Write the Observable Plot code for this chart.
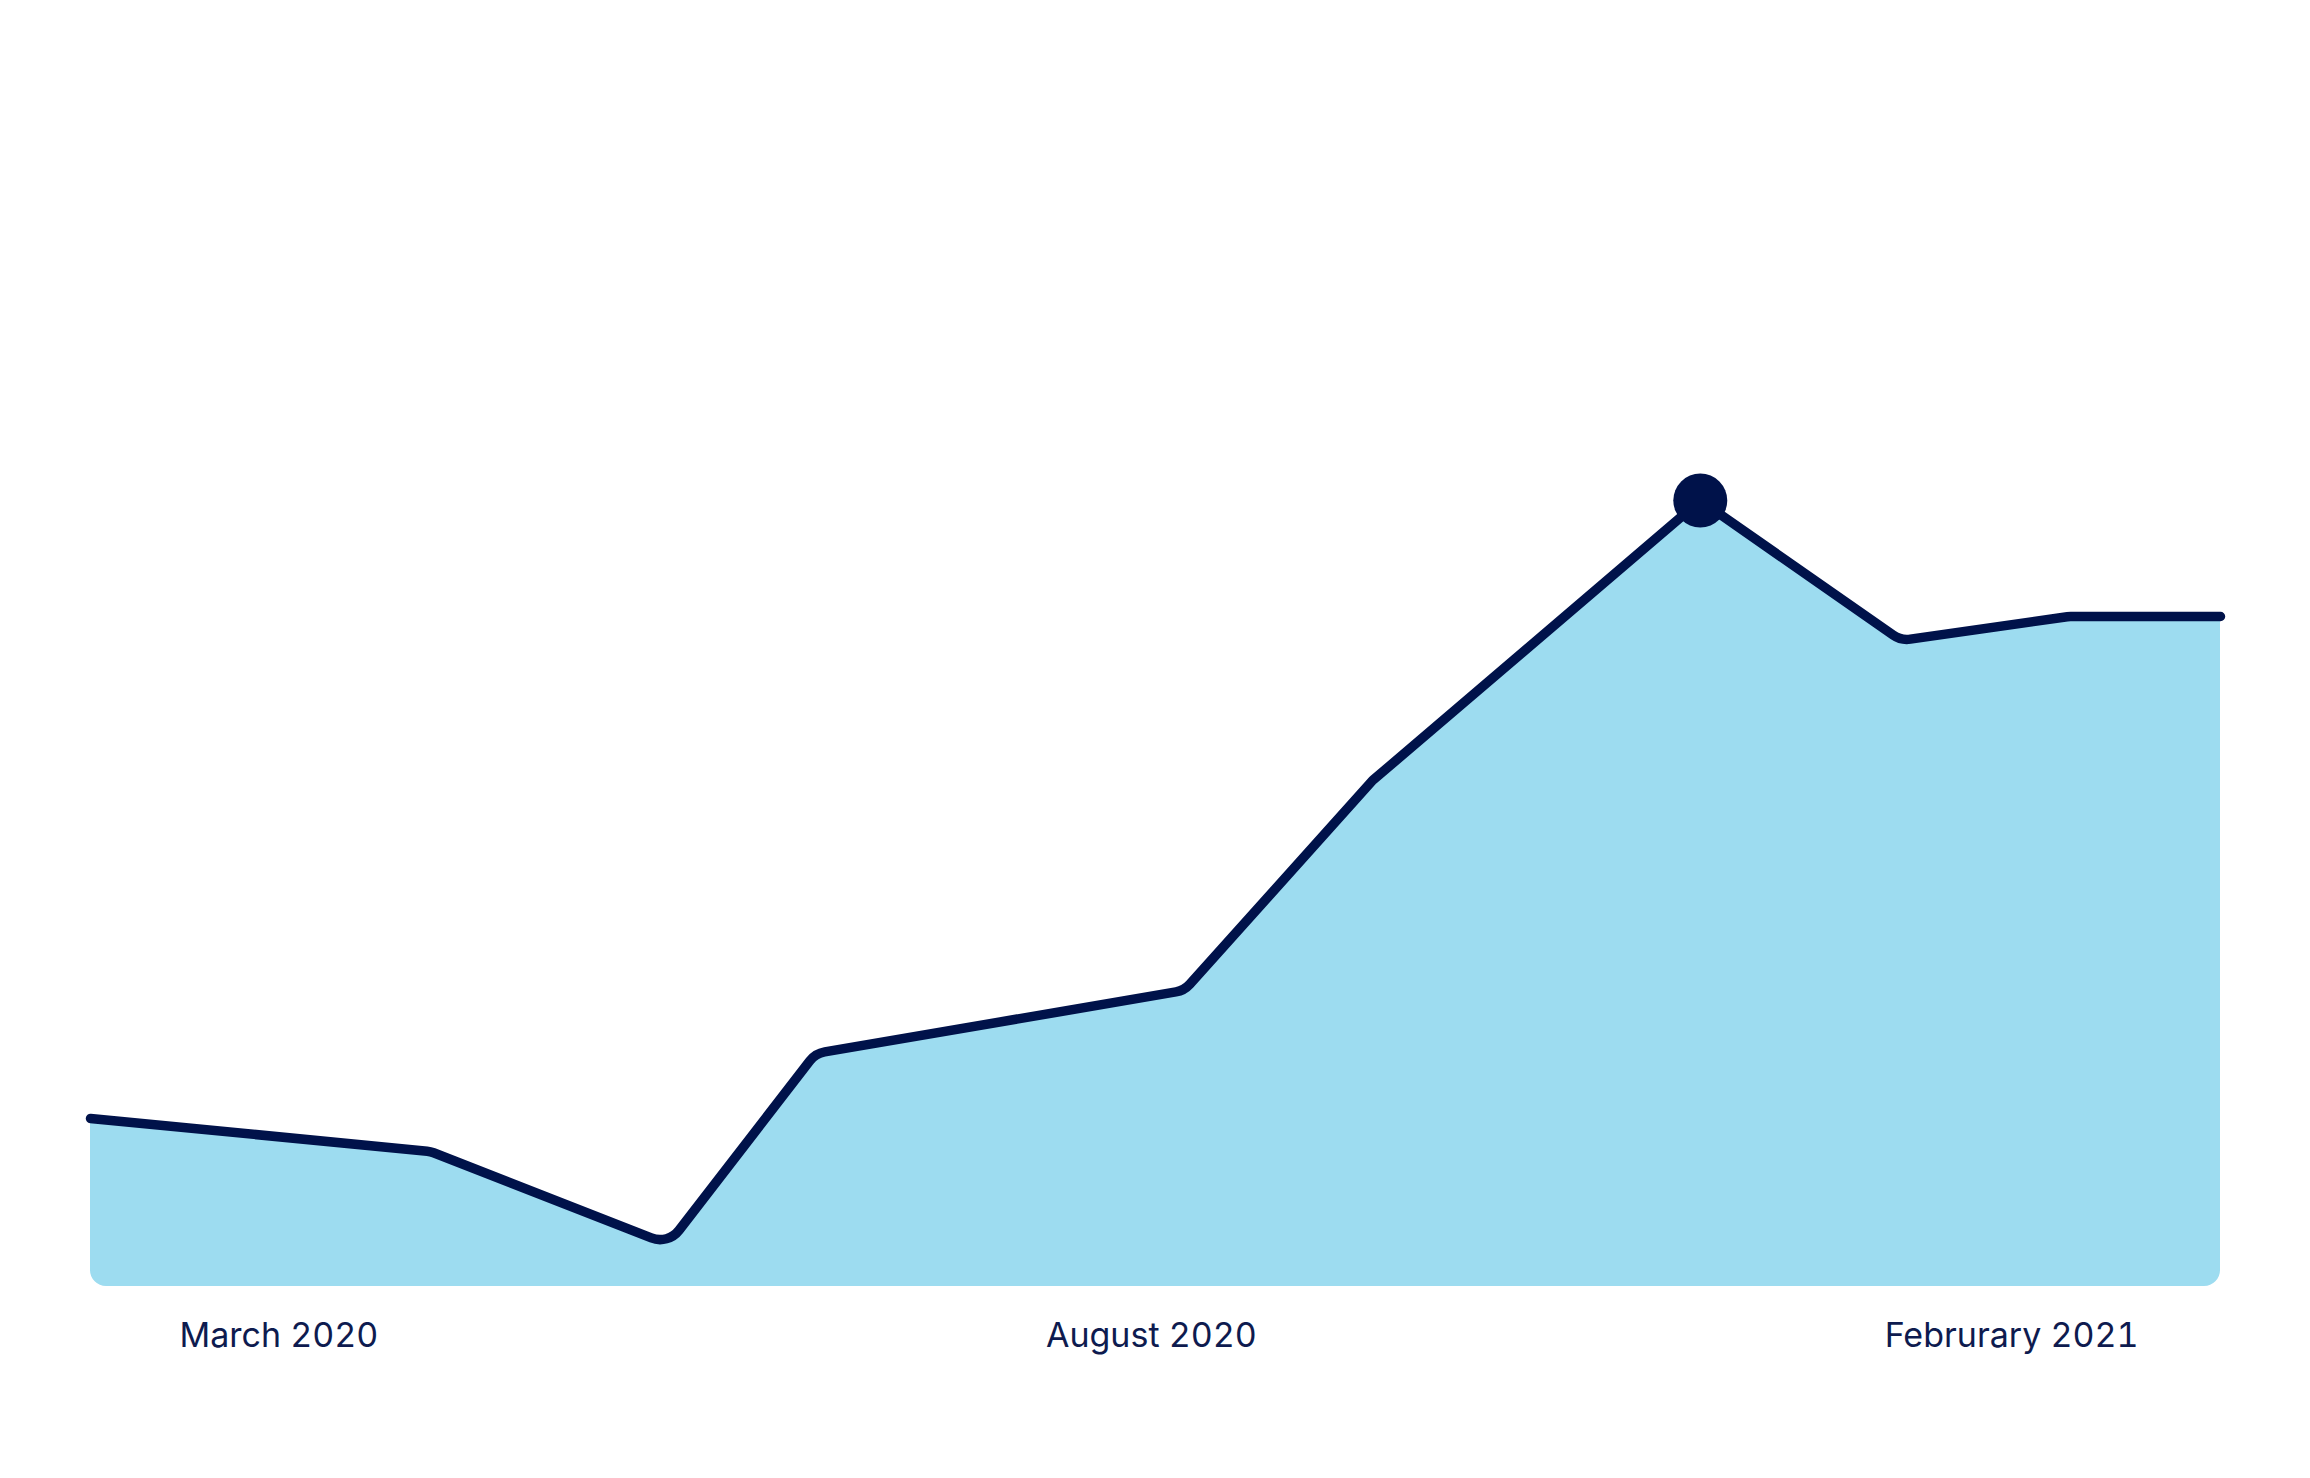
<!DOCTYPE html>
<html>
<head>
<meta charset="utf-8">
<script src="https://cdn.jsdelivr.net/npm/d3@7"></script>
<script src="https://cdn.jsdelivr.net/npm/@observablehq/plot@0.6"></script>
<style>
  html, body { margin: 0; padding: 0; background: #ffffff; }
  #chart svg { display: block; }
</style>
</head>
<body>
<div id="chart"></div>
<script>
// Data: week index across the period (Mar 2020 – Feb 2021) and index value
const weeks  = [0, 8.3, 14.1, 17.7, 26.7, 31.3, 39.3, 44.2, 48.3, 52];
const values = [16.8, 13.5, 4.2, 23.3, 29.6, 50.6, 78.6, 64.6, 67.0, 67.0];

// Axis labels
const tickWeeks  = [4.6, 25.9, 46.9];
const tickLabels = ["March 2020", "August 2020", "Februrary 2021"];

const data = weeks.map((w, i) => ({week: w, value: values[i]}));
const peak = data.reduce((a, b) => (b.value > a.value ? b : a));
const labelOf = new Map(tickWeeks.map((t, i) => [t, tickLabels[i]]));

const navy = "#00124a";
const sky = "#9ddcf0";
const textColor = "#0e1b4f";

// Polyline with rounded (filleted) corners; in area mode the bottom corners get their own radius
function roundedCurve(r, rBottom) {
  return function (context) {
    let pts = [], inArea = false, lines = 0, nTop = 0;
    function drawLine() {
      const n = pts.length;
      if (!n) return;
      context.moveTo(pts[0][0], pts[0][1]);
      for (let i = 1; i < n - 1; i++) context.arcTo(pts[i][0], pts[i][1], pts[i + 1][0], pts[i + 1][1], r);
      if (n > 1) context.lineTo(pts[n - 1][0], pts[n - 1][1]);
    }
    function drawArea() {
      const N = pts.length;
      if (!N) return;
      context.moveTo(pts[0][0], pts[0][1]);
      for (let k = 1; k < N; k++) {
        const nx = pts[(k + 1) % N];
        let rad = 0;
        if (k === nTop - 1) rad = 0;
        else if (k < nTop - 1) rad = r;
        else if (k === nTop || k === N - 1) rad = rBottom;
        if (rad > 0) context.arcTo(pts[k][0], pts[k][1], nx[0], nx[1], rad);
        else context.lineTo(pts[k][0], pts[k][1]);
      }
      context.closePath();
    }
    return {
      areaStart() { inArea = true; pts = []; lines = 0; nTop = 0; },
      areaEnd() { drawArea(); inArea = false; },
      lineStart() { if (!inArea) pts = []; },
      lineEnd() {
        if (!inArea) drawLine();
        else { lines++; if (lines === 1) nTop = pts.length; }
      },
      point(x, y) { pts.push([+x, +y]); }
    };
  };
}

const plot = Plot.plot({
  width: 2310,
  height: 1478,
  marginLeft: 90,
  marginRight: 90,
  marginTop: 286,
  marginBottom: 192,
  style: {
    fontFamily: "Inter, 'Noto Sans', sans-serif",
    fontSize: "34px",
    color: textColor,
    background: "#ffffff",
    overflow: "visible"
  },
  x: {domain: [0, 52], axis: null},
  y: {domain: [0, 100], axis: null},
  marks: [
    Plot.areaY(data, {x: "week", y: "value", fill: sky, curve: roundedCurve(24, 16)}),
    Plot.lineY(data, {
      x: "week", y: "value", stroke: navy, strokeWidth: 9.5,
      strokeLinecap: "round", strokeLinejoin: "round", curve: roundedCurve(24, 0)
    }),
    Plot.dot([peak], {x: "week", y: "value", r: 27, fill: navy, stroke: "none"}),
    Plot.axisX(tickWeeks, {
      anchor: "bottom", label: null, tickSize: 0, tickPadding: 36,
      tickFormat: (d) => labelOf.get(d), fontSize: 34, fill: textColor
    })
  ]
});

document.getElementById("chart").appendChild(plot);
</script>
</body>
</html>
